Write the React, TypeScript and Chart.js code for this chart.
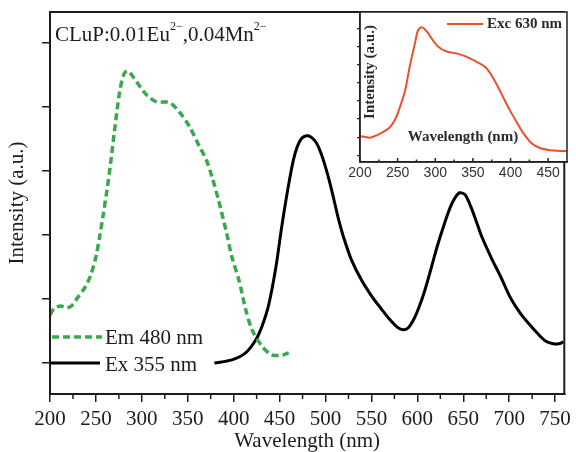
import React, { useEffect, useRef } from 'react';
import { Chart, registerables } from 'chart.js';

Chart.register(...registerables);

// ---------- data ----------
const X_TICKS = [200, 250, 300, 350, 400, 450, 500, 550, 600, 650, 700, 750];
const X_MINOR = [225, 275, 325, 375, 425, 475, 525, 575, 625, 675, 725];
const Y_TICKS = [0, 1, 2, 3, 4, 5];

const EM_X = [200, 205, 212, 218, 224, 230, 238, 244, 250, 254, 258, 262, 266, 270, 276, 281, 285, 289, 295, 305, 316, 330, 341, 352, 362, 370, 377, 383, 392, 398, 406, 413, 420, 431, 441, 452, 460];
const EM_Y = [0.75, 0.86, 0.89, 0.86, 0.9, 1.02, 1.18, 1.36, 1.66, 1.97, 2.32, 2.7, 3.12, 3.6, 4.25, 4.53, 4.56, 4.5, 4.38, 4.19, 4.08, 4.07, 3.92, 3.69, 3.4, 3.18, 2.88, 2.57, 2.05, 1.66, 1.28, 0.84, 0.52, 0.26, 0.13, 0.12, 0.16];

const EX_X = [379, 398, 413, 424, 431, 438, 446, 452, 457, 461, 465, 469, 473, 477, 481, 485, 490, 495, 500, 505, 510, 515, 520, 528, 539, 550, 560, 570, 578, 584, 590, 596, 602, 608, 615, 622, 630, 636, 641, 646, 652, 658, 664, 670, 680, 691, 701, 711, 721, 731, 740, 748, 754, 759];
const EX_Y = [0, 0.05, 0.16, 0.36, 0.58, 0.9, 1.5, 2.1, 2.55, 2.88, 3.17, 3.37, 3.49, 3.54, 3.55, 3.52, 3.44, 3.28, 3.06, 2.8, 2.5, 2.2, 1.95, 1.62, 1.3, 1.05, 0.86, 0.68, 0.56, 0.52, 0.55, 0.68, 0.88, 1.13, 1.48, 1.84, 2.2, 2.44, 2.58, 2.66, 2.63, 2.45, 2.22, 1.98, 1.66, 1.34, 1.03, 0.8, 0.62, 0.46, 0.34, 0.3, 0.3, 0.33];

const INSET_X = [200, 207, 213, 222, 231, 240, 247, 253, 260, 266, 273, 277, 282, 289, 295, 304, 315, 328, 342, 355, 366, 373, 382, 390, 399, 408, 417, 428, 439, 452, 465, 475];
const INSET_Y = [1.05, 1.01, 0.97, 1.1, 1.29, 1.56, 2.0, 2.65, 3.59, 4.88, 6.17, 6.88, 7.06, 6.82, 6.45, 5.98, 5.72, 5.62, 5.43, 5.15, 4.88, 4.52, 3.87, 3.22, 2.49, 1.84, 1.22, 0.66, 0.4, 0.28, 0.24, 0.23];
const INSET_X_TICKS = [200, 250, 300, 350, 400, 450];
const INSET_X_MINOR = [225, 275, 325, 375, 425];
const INSET_Y_TICKS = [0, 1, 2, 3, 4, 5, 6, 7];

const EM_LABEL = 'Em 480 nm';
const EX_LABEL = 'Ex 355 nm';
const EXC_LABEL = 'Exc 630 nm';
const TITLE_PARTS = ['CLuP:0.01Eu', '2\u2212', ',0.04Mn', '2\u2212'];

// ---------- styles ----------
const SERIF = '"Liberation Serif", "Times New Roman", serif';
const SANS = '"Liberation Sans", Arial, sans-serif';
const INK = '#1c1c1c';
const GREEN = '#3aa94e';
const RED = '#e8502e';

const toPts = (xs: number[], ys: number[]) => xs.map((x, i) => ({ x, y: ys[i] }));

const mainPlugin = {
  id: 'mainDecor',
  afterDraw(chart: any) {
    const { ctx, chartArea: ca, scales } = chart;
    ctx.save();
    // frame
    ctx.strokeStyle = INK;
    ctx.lineWidth = 2;
    ctx.strokeRect(ca.left, ca.top, ca.right - ca.left, ca.bottom - ca.top);
    // minor ticks
    ctx.lineWidth = 1.5;
    X_MINOR.forEach((v) => {
      const px = scales.x.getPixelForValue(v);
      ctx.beginPath();
      ctx.moveTo(px, ca.bottom);
      ctx.lineTo(px, ca.bottom + 5);
      ctx.stroke();
    });
    // legend
    ctx.setLineDash([7, 4]);
    ctx.strokeStyle = GREEN;
    ctx.lineWidth = 3.5;
    ctx.beginPath();
    ctx.moveTo(ca.left + 2, 337);
    ctx.lineTo(ca.left + 52, 337);
    ctx.stroke();
    ctx.setLineDash([]);
    ctx.strokeStyle = '#000';
    ctx.lineWidth = 3;
    ctx.beginPath();
    ctx.moveTo(ca.left, 363);
    ctx.lineTo(ca.left + 50, 363);
    ctx.stroke();
    ctx.fillStyle = INK;
    ctx.font = `21px ${SERIF}`;
    ctx.textAlign = 'left';
    ctx.textBaseline = 'middle';
    ctx.fillText(EM_LABEL, ca.left + 55, 338);
    ctx.fillText(EX_LABEL, ca.left + 55, 365);
    // title with superscripts
    ctx.textBaseline = 'alphabetic';
    let x = ca.left + 5;
    const base = 41;
    TITLE_PARTS.forEach((t, i) => {
      const sup = i % 2 === 1;
      ctx.font = sup ? `12px ${SERIF}` : `21px ${SERIF}`;
      ctx.fillText(t, x, sup ? base - 11 : base);
      x += ctx.measureText(t).width;
    });
    ctx.restore();
  },
};

const insetPlugin = {
  id: 'insetDecor',
  beforeDraw(chart: any) {
    const { ctx, chartArea: ca } = chart;
    ctx.save();
    ctx.fillStyle = '#ffffff';
    ctx.fillRect(ca.left, ca.top, ca.right - ca.left, ca.bottom - ca.top);
    ctx.restore();
  },
  afterDraw(chart: any) {
    const { ctx, chartArea: ca, scales } = chart;
    ctx.save();
    ctx.strokeStyle = '#222';
    ctx.lineWidth = 1.5;
    ctx.strokeRect(ca.left, ca.top, ca.right - ca.left, ca.bottom - ca.top);
    // inward x ticks
    INSET_X_TICKS.forEach((v) => {
      const px = scales.x.getPixelForValue(v);
      ctx.beginPath();
      ctx.moveTo(px, ca.bottom);
      ctx.lineTo(px, ca.bottom - 4);
      ctx.stroke();
    });
    INSET_X_MINOR.forEach((v) => {
      const px = scales.x.getPixelForValue(v);
      ctx.beginPath();
      ctx.moveTo(px, ca.bottom);
      ctx.lineTo(px, ca.bottom - 2.5);
      ctx.stroke();
    });
    // legend
    ctx.strokeStyle = RED;
    ctx.lineWidth = 2;
    ctx.beginPath();
    ctx.moveTo(ca.left + 87, ca.top + 12);
    ctx.lineTo(ca.left + 123, ca.top + 12);
    ctx.stroke();
    ctx.fillStyle = '#2a2a2a';
    ctx.font = `bold 15px ${SERIF}`;
    ctx.textAlign = 'left';
    ctx.textBaseline = 'middle';
    ctx.fillText(EXC_LABEL, ca.left + 127, ca.top + 12);
    // inner axis titles
    ctx.textAlign = 'center';
    ctx.fillText('Wavelength (nm)', ca.left + 103, ca.top + 125);
    ctx.translate(ca.left + 10, ca.top + 60);
    ctx.rotate(-Math.PI / 2);
    ctx.fillText('Intensity (a.u.)', 0, 0);
    ctx.restore();
  },
};

export default function App() {
  const mainRef = useRef<HTMLCanvasElement>(null);
  const insetRef = useRef<HTMLCanvasElement>(null);

  useEffect(() => {
    const axisGrid = { display: true, drawOnChartArea: false, drawTicks: true, tickLength: 8, color: INK, lineWidth: 1.5 };
    const main = new Chart(mainRef.current as HTMLCanvasElement, {
      type: 'line',
      data: {
        datasets: [
          {
            label: EM_LABEL,
            data: toPts(EM_X, EM_Y),
            borderColor: GREEN,
            borderWidth: 3.5,
            borderDash: [7, 4],
            pointRadius: 0,
            tension: 0.3,
            fill: false,
          },
          {
            label: EX_LABEL,
            data: toPts(EX_X, EX_Y),
            borderColor: '#000',
            borderWidth: 3,
            pointRadius: 0,
            tension: 0.3,
            fill: false,
          },
        ],
      },
      options: {
        responsive: false,
        animation: false,
        layout: { padding: { left: 0, right: 8, top: 12, bottom: 0 } },
        plugins: { legend: { display: false }, tooltip: { enabled: false } },
        scales: {
          x: {
            type: 'linear',
            min: 200,
            max: 760,
            afterBuildTicks: (s: any) => { s.ticks = X_TICKS.map((v) => ({ value: v })); },
            afterFit: (s: any) => { s.height = 58; },
            grid: axisGrid,
            border: { display: true, color: INK, width: 2 },
            ticks: { color: INK, font: { family: SERIF, size: 21 }, padding: 5, maxRotation: 0, autoSkip: false },
            title: { display: true, text: 'Wavelength (nm)', color: INK, font: { family: SERIF, size: 21, lineHeight: 1 }, padding: { top: 0, bottom: 0 } },
          },
          y: {
            type: 'linear',
            min: -0.484,
            max: 5.484,
            afterBuildTicks: (s: any) => { s.ticks = Y_TICKS.map((v) => ({ value: v })); },
            afterFit: (s: any) => { s.width = 50; },
            grid: axisGrid,
            border: { display: true, color: INK, width: 2 },
            ticks: { display: false },
            title: { display: true, text: 'Intensity (a.u.)', color: INK, font: { family: SERIF, size: 21, lineHeight: 1 }, padding: { top: 7, bottom: 0 } },
          },
        },
      } as any,
      plugins: [mainPlugin],
    });

    const inset = new Chart(insetRef.current as HTMLCanvasElement, {
      type: 'line',
      data: {
        datasets: [
          {
            label: EXC_LABEL,
            data: toPts(INSET_X, INSET_Y),
            borderColor: RED,
            borderWidth: 2,
            pointRadius: 0,
            tension: 0.3,
            fill: false,
          },
        ],
      },
      options: {
        responsive: false,
        animation: false,
        layout: { padding: { left: 0, right: 9, top: 12, bottom: 0 } },
        plugins: { legend: { display: false }, tooltip: { enabled: false } },
        scales: {
          x: {
            type: 'linear',
            min: 200,
            max: 475,
            afterBuildTicks: (s: any) => { s.ticks = INSET_X_TICKS.map((v) => ({ value: v })); },
            afterFit: (s: any) => { s.height = 28; },
            grid: { display: true, drawOnChartArea: false, drawTicks: false },
            border: { display: true, color: '#222', width: 1.5 },
            ticks: { color: '#333', font: { family: SANS, size: 14 }, padding: 3, maxRotation: 0, autoSkip: false },
          },
          y: {
            type: 'linear',
            min: -0.37,
            max: 7.9,
            afterBuildTicks: (s: any) => { s.ticks = INSET_Y_TICKS.map((v) => ({ value: v })); },
            afterFit: (s: any) => { s.width = 30; },
            grid: { display: true, drawOnChartArea: false, drawTicks: true, tickLength: 3, color: '#222', lineWidth: 1.2 },
            border: { display: true, color: '#222', width: 1.5 },
            ticks: { display: false },
          },
        },
      } as any,
      plugins: [insetPlugin],
    });

    return () => {
      main.destroy();
      inset.destroy();
    };
  }, []);

  return (
    <div style={{ position: 'absolute', left: 0, top: 0, width: 576, height: 452, background: '#fff' }}>
      <canvas ref={mainRef} width={576} height={452} style={{ position: 'absolute', left: 0, top: 0 }} />
      <canvas ref={insetRef} width={246} height={190} style={{ position: 'absolute', left: 330, top: 0 }} />
    </div>
  );
}
